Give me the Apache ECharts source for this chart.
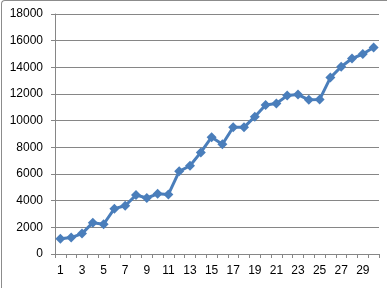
<!DOCTYPE html>
<html><head><meta charset="utf-8">
<script src="https://cdn.jsdelivr.net/npm/echarts@6/dist/echarts.min.js"></script>
<style>
html,body{margin:0;padding:0;background:#fff;}
#frame{position:absolute;left:1px;top:0;width:400px;height:300px;border-left:1px solid #8c8c8c;border-top:1px solid #8c8c8c;border-top-left-radius:4px;box-sizing:border-box;}
#c{position:absolute;left:0;top:0;width:387px;height:288px;}
</style></head>
<body>
<div id="frame"></div>
<div id="c"></div>
<script>
const categories = ['1','2','3','4','5','6','7','8','9','10','11','12','13','14','15','16','17','18','19','20','21','22','23','24','25','26','27','28','29','30'];
const values = [1150,1230,1530,2350,2230,3400,3620,4420,4200,4510,4470,6200,6620,7620,8760,8230,9510,9500,10300,11180,11290,11880,11960,11560,11580,13230,14040,14660,15000,15490];
const yMin = 0, yMax = 18000, yStep = 2000;

const chart = echarts.init(document.getElementById('c'), null, {renderer:'canvas'});
chart.setOption({
  animation:false,
  grid:{left:55,right:8,top:14,bottom:34,containLabel:false},
  xAxis:{
    type:'category', data:categories, boundaryGap:true,
    axisLine:{show:true,lineStyle:{color:'#868686',width:1}},
    axisTick:{show:true,interval:0,length:4,lineStyle:{color:'#868686'}},
    axisLabel:{interval:1,margin:11,color:'#000',fontFamily:'Liberation Sans',fontSize:12},
    splitLine:{show:false}
  },
  yAxis:{
    type:'value', min:yMin, max:yMax, interval:yStep,
    axisLine:{show:true,lineStyle:{color:'#868686',width:1}},
    axisTick:{show:true,length:4,lineStyle:{color:'#868686'}},
    axisLabel:{margin:12,color:'#000',fontFamily:'Liberation Sans',fontSize:12,formatter:function(v){return String(v);}},
    splitLine:{show:true,lineStyle:{color:'#868686',width:1}}
  },
  series:[{
    type:'line', data:values,
    symbol:'diamond', symbolSize:10, showAllSymbol:true,
    lineStyle:{color:'#4a7ebb',width:3},
    itemStyle:{color:'#4a7ebb'}
  }]
});
</script>
</body></html>
